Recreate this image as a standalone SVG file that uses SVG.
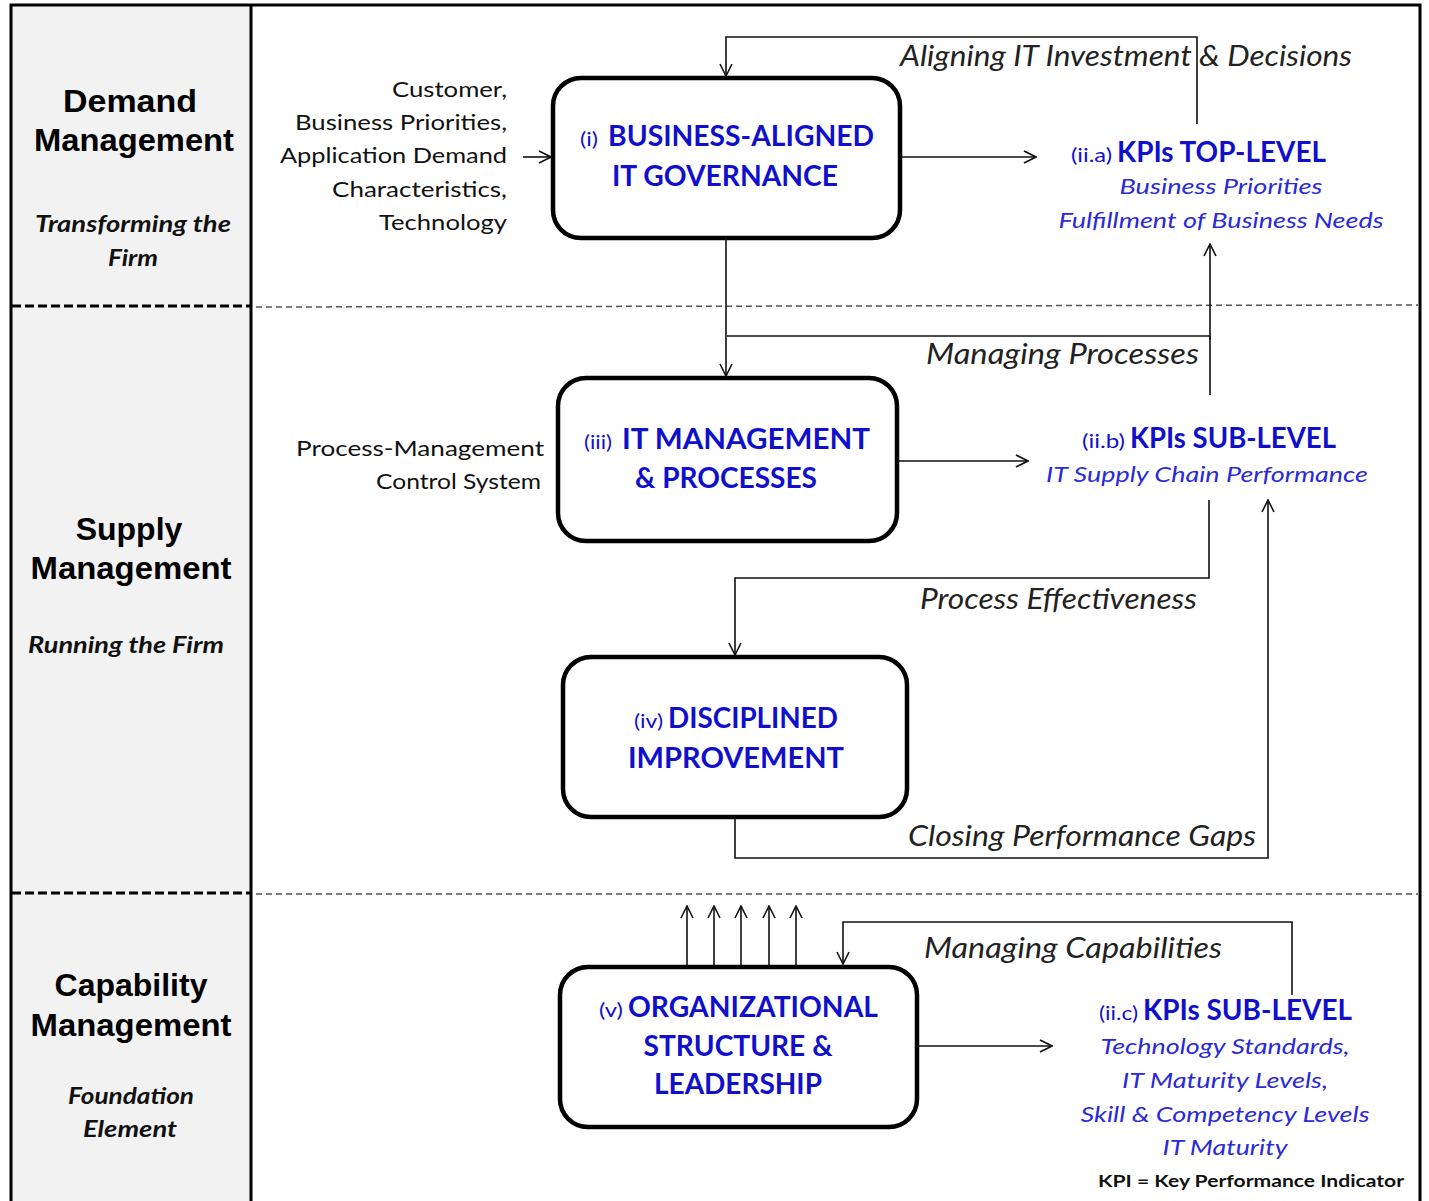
<svg xmlns="http://www.w3.org/2000/svg" width="1429" height="1201" viewBox="0 0 1429 1201">
<style>
.frame{fill:none;stroke:#000;stroke-width:3}
.node rect{fill:#fff;stroke:#000;stroke-width:4.5}
.sepL{stroke:#000;stroke-width:3;stroke-dasharray:9 4}
.sepR{stroke:#555;stroke-width:1.5;stroke-dasharray:6 4}
.con{fill:none;stroke:#111;stroke-width:1.6}
.hd{font-family:"Liberation Sans",Arial,sans-serif;font-weight:bold;font-size:32px;fill:#000;text-anchor:middle}
.sub{font-family:"Lato","Liberation Sans",sans-serif;font-weight:bold;font-style:italic;font-size:22px;fill:#111;text-anchor:middle}
.in{font-family:"Lato","Liberation Sans",sans-serif;font-size:22px;fill:#111;text-anchor:end}
.tt{font-family:"Lato","Liberation Sans",sans-serif;font-weight:bold;font-size:28px;fill:#1010cc}
.sm{font-family:"Lato","Liberation Sans",sans-serif;font-size:20px;fill:#1010cc}
.ki{font-family:"Lato","Liberation Sans",sans-serif;font-style:italic;font-size:22px;fill:#2a2ad8;text-anchor:middle}
.lb{font-family:"Lato","Liberation Sans",sans-serif;font-style:italic;font-size:28px;fill:#222}
.note{font-family:"Lato","Liberation Sans",sans-serif;font-weight:bold;font-size:17px;fill:#111}
</style>
<defs>
<marker id="arr" viewBox="0 0 14 14" refX="13" refY="7" markerWidth="14" markerHeight="14" markerUnits="userSpaceOnUse" orient="auto">
<path d="M1,1 L13,7 L1,13" fill="none" stroke="#111" stroke-width="1.6"/>
</marker>
</defs>
<rect width="1429" height="1201" fill="#fff"/>
<rect x="11" y="5" width="240" height="1200" fill="#f2f2f2"/>
<g id="frame">
<path class="frame" d="M11,1205 L11,5 L1420,5 L1420,1205"/>
<line class="frame" x1="251" y1="5" x2="251" y2="1205"/>
<line class="sepL" x1="12" y1="306" x2="250" y2="306"/>
<line class="sepR" x1="256" y1="307" x2="1418" y2="305"/>
<line class="sepL" x1="12" y1="893" x2="250" y2="893"/>
<line class="sepR" x1="256" y1="894" x2="1418" y2="894"/>
</g>
<g id="lane-demand">
<text class="hd" x="130" y="112" textLength="134" lengthAdjust="spacingAndGlyphs">Demand</text>
<text class="hd" x="134" y="151" textLength="200" lengthAdjust="spacingAndGlyphs">Management</text>
<text class="sub" x="133" y="232" textLength="196" lengthAdjust="spacingAndGlyphs">Transforming the</text>
<text class="sub" x="133" y="266" textLength="50" lengthAdjust="spacingAndGlyphs">Firm</text>
</g>
<g id="lane-supply">
<text class="hd" x="129" y="540">Supply</text>
<text class="hd" x="131" y="579" textLength="201" lengthAdjust="spacingAndGlyphs">Management</text>
<text class="sub" x="126" y="653" textLength="196" lengthAdjust="spacingAndGlyphs">Running the Firm</text>
</g>
<g id="lane-capability">
<text class="hd" x="131" y="996">Capability</text>
<text class="hd" x="131" y="1036" textLength="201" lengthAdjust="spacingAndGlyphs">Management</text>
<text class="sub" x="131" y="1104" textLength="126" lengthAdjust="spacingAndGlyphs">Foundation</text>
<text class="sub" x="130" y="1137" textLength="94" lengthAdjust="spacingAndGlyphs">Element</text>
</g>
<g id="inputs-demand">
<text class="in" x="507" y="97" textLength="115" lengthAdjust="spacingAndGlyphs">Customer,</text>
<text class="in" x="507" y="130" textLength="212" lengthAdjust="spacingAndGlyphs">Business Priorities,</text>
<text class="in" x="507" y="163" textLength="227" lengthAdjust="spacingAndGlyphs">Application Demand</text>
<text class="in" x="507" y="197" textLength="175" lengthAdjust="spacingAndGlyphs">Characteristics,</text>
<text class="in" x="507" y="230" textLength="128" lengthAdjust="spacingAndGlyphs">Technology</text>
</g>
<g id="inputs-supply">
<text class="in" x="544" y="456" textLength="248" lengthAdjust="spacingAndGlyphs">Process-Management</text>
<text class="in" x="541" y="489" textLength="165" lengthAdjust="spacingAndGlyphs">Control System</text>
</g>
<g id="node-i" class="node">
<rect x="553" y="78" width="347" height="160" rx="28"/>
<text class="sm" x="580" y="146" textLength="18" lengthAdjust="spacingAndGlyphs">(i)</text>
<text class="tt" x="608" y="146" textLength="266" lengthAdjust="spacingAndGlyphs">BUSINESS-ALIGNED</text>
<text class="tt" x="725" y="186" text-anchor="middle" textLength="226" lengthAdjust="spacingAndGlyphs">IT GOVERNANCE</text>
</g>
<g id="node-iii" class="node">
<rect x="558" y="378" width="339" height="163" rx="28"/>
<text class="sm" x="584" y="449" textLength="28" lengthAdjust="spacingAndGlyphs">(iii)</text>
<text class="tt" x="622" y="449" textLength="248" lengthAdjust="spacingAndGlyphs">IT MANAGEMENT</text>
<text class="tt" x="726" y="488" text-anchor="middle" textLength="182" lengthAdjust="spacingAndGlyphs">&amp; PROCESSES</text>
</g>
<g id="node-iv" class="node">
<rect x="563" y="657" width="344" height="160" rx="28"/>
<text class="sm" x="634" y="728" textLength="29" lengthAdjust="spacingAndGlyphs">(iv)</text>
<text class="tt" x="668" y="728" textLength="170" lengthAdjust="spacingAndGlyphs">DISCIPLINED</text>
<text class="tt" x="736" y="768" text-anchor="middle" textLength="216" lengthAdjust="spacingAndGlyphs">IMPROVEMENT</text>
</g>
<g id="node-v" class="node">
<rect x="560" y="967" width="357" height="160" rx="28"/>
<text class="sm" x="599" y="1017" textLength="24" lengthAdjust="spacingAndGlyphs">(v)</text>
<text class="tt" x="628" y="1017" textLength="250" lengthAdjust="spacingAndGlyphs">ORGANIZATIONAL</text>
<text class="tt" x="738" y="1056" text-anchor="middle" textLength="189" lengthAdjust="spacingAndGlyphs">STRUCTURE &amp;</text>
<text class="tt" x="738" y="1094" text-anchor="middle" textLength="168" lengthAdjust="spacingAndGlyphs">LEADERSHIP</text>
</g>
<g id="kpi-top">
<text class="sm" x="1071" y="162" textLength="41" lengthAdjust="spacingAndGlyphs">(ii.a)</text>
<text class="tt" x="1117" y="162" textLength="209" lengthAdjust="spacingAndGlyphs">KPIs TOP-LEVEL</text>
<text class="ki" x="1221" y="194" textLength="203" lengthAdjust="spacingAndGlyphs">Business Priorities</text>
<text class="ki" x="1221" y="228" textLength="325" lengthAdjust="spacingAndGlyphs">Fulfillment of Business Needs</text>
</g>
<g id="kpi-sub-b">
<text class="sm" x="1082" y="448" textLength="43" lengthAdjust="spacingAndGlyphs">(ii.b)</text>
<text class="tt" x="1130" y="448" textLength="206" lengthAdjust="spacingAndGlyphs">KPIs SUB-LEVEL</text>
<text class="ki" x="1207" y="482" textLength="322" lengthAdjust="spacingAndGlyphs">IT Supply Chain Performance</text>
</g>
<g id="kpi-sub-c">
<text class="sm" x="1099" y="1020" textLength="39" lengthAdjust="spacingAndGlyphs">(ii.c)</text>
<text class="tt" x="1143" y="1020" textLength="209" lengthAdjust="spacingAndGlyphs">KPIs SUB-LEVEL</text>
<text class="ki" x="1225" y="1054" textLength="249" lengthAdjust="spacingAndGlyphs">Technology Standards,</text>
<text class="ki" x="1225" y="1088" textLength="206" lengthAdjust="spacingAndGlyphs">IT Maturity Levels,</text>
<text class="ki" x="1225" y="1122" textLength="289" lengthAdjust="spacingAndGlyphs">Skill &amp; Competency Levels</text>
<text class="ki" x="1225" y="1155" textLength="125" lengthAdjust="spacingAndGlyphs">IT Maturity</text>
<text class="note" x="1098" y="1187" textLength="306" lengthAdjust="spacingAndGlyphs">KPI = Key Performance Indicator</text>
</g>
<g id="connectors">
<line class="con" x1="523" y1="157" x2="551" y2="157" marker-end="url(#arr)"/>
<line class="con" x1="900" y1="157" x2="1036" y2="157" marker-end="url(#arr)"/>
<polyline class="con" points="1197,124 1197,37 726,37 726,76" marker-end="url(#arr)"/>
<line class="con" x1="726" y1="238" x2="726" y2="376" marker-end="url(#arr)"/>
<polyline class="con" points="1210,395 1210,336 727,336"/>
<line class="con" x1="1210" y1="340" x2="1210" y2="244" marker-end="url(#arr)"/>
<line class="con" x1="897" y1="461" x2="1028" y2="461" marker-end="url(#arr)"/>
<polyline class="con" points="1209,500 1209,578 735,578 735,655" marker-end="url(#arr)"/>
<polyline class="con" points="735,817 735,858 1268,858 1268,500" marker-end="url(#arr)"/>
<line class="con" x1="687" y1="966" x2="687" y2="906" marker-end="url(#arr)"/>
<line class="con" x1="714" y1="966" x2="714" y2="906" marker-end="url(#arr)"/>
<line class="con" x1="741" y1="966" x2="741" y2="906" marker-end="url(#arr)"/>
<line class="con" x1="769" y1="966" x2="769" y2="906" marker-end="url(#arr)"/>
<line class="con" x1="796" y1="966" x2="796" y2="906" marker-end="url(#arr)"/>
<polyline class="con" points="1292,995 1292,922 843,922 843,964" marker-end="url(#arr)"/>
<line class="con" x1="917" y1="1046" x2="1052" y2="1046" marker-end="url(#arr)"/>
<text class="lb" x="900" y="66" textLength="452" lengthAdjust="spacingAndGlyphs">Aligning IT Investment &amp; Decisions</text>
<text class="lb" x="926" y="364" textLength="273" lengthAdjust="spacingAndGlyphs">Managing Processes</text>
<text class="lb" x="920" y="609" textLength="277" lengthAdjust="spacingAndGlyphs">Process Effectiveness</text>
<text class="lb" x="908" y="846" textLength="348" lengthAdjust="spacingAndGlyphs">Closing Performance Gaps</text>
<text class="lb" x="924" y="958" textLength="298" lengthAdjust="spacingAndGlyphs">Managing Capabilities</text>
</g>
</svg>
